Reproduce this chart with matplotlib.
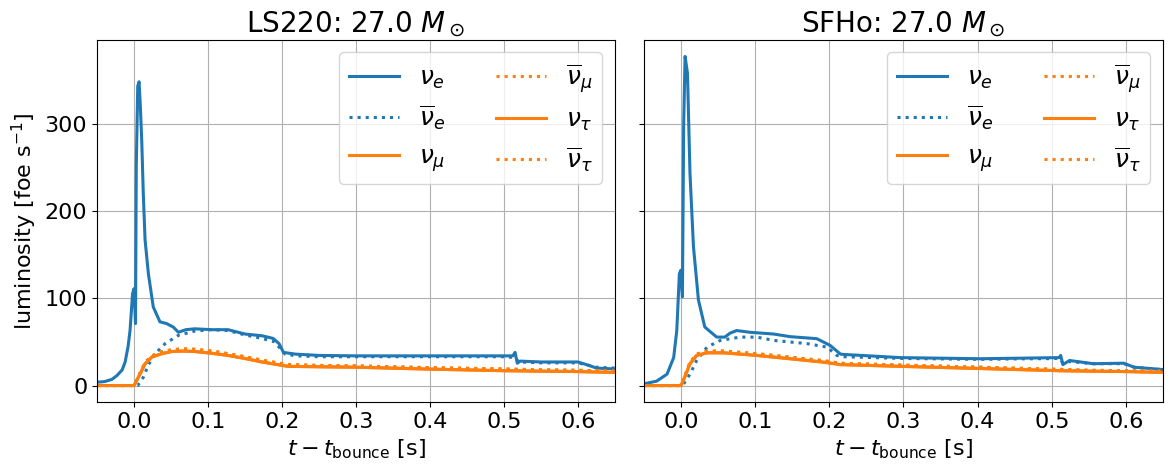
import matplotlib
matplotlib.use("Agg")
import matplotlib.pyplot as plt

# ---------------- LS220 ----------------
ls_t_nue = [-0.05, -0.04, -0.03, -0.023, -0.016, -0.012, -0.008, -0.0054, -0.002, 0.0, 0.002,
            0.003, 0.005, 0.0068, 0.0085, 0.0104, 0.0125, 0.0149, 0.0194, 0.026, 0.035, 0.044,
            0.053, 0.060, 0.07, 0.082, 0.105, 0.127, 0.150, 0.173, 0.188, 0.196, 0.202, 0.218,
            0.25, 0.3, 0.35, 0.4, 0.45, 0.5, 0.512, 0.515, 0.518, 0.522, 0.55, 0.6, 0.615,
            0.625, 0.65]
ls_nue = [3.8, 4.5, 7, 11.5, 18, 27, 45, 63, 105, 111, 71,
          250, 343, 348, 320, 281, 220, 167, 128, 90, 73, 71,
          67, 61, 64, 65, 64, 64, 59, 57, 54, 48, 38, 36,
          34.5, 34, 34, 34, 34, 34, 34, 38, 25.6, 28, 27, 27, 23,
          20, 19]
ls_t_anue = [-0.05, 0.005, 0.0126, 0.019, 0.028, 0.042, 0.06, 0.082, 0.105, 0.127, 0.15,
             0.173, 0.19, 0.204, 0.22, 0.25, 0.3, 0.4, 0.5, 0.515, 0.52, 0.55, 0.6, 0.625, 0.65]
ls_anue = [0, 0, 9.5, 23, 36, 48, 57.5, 62.4, 64, 63, 58,
           54, 50, 36, 34, 33, 33, 33, 33, 32, 27, 26, 26, 21, 20]
ls_t_nux = [-0.05, 0.0, 0.008, 0.015, 0.024, 0.037, 0.051, 0.065, 0.082, 0.105, 0.127, 0.15,
            0.173, 0.208, 0.25, 0.3, 0.4, 0.5, 0.55, 0.6, 0.65]
ls_nux = [0, 0, 13, 25, 32.6, 36.4, 39, 39.5, 39, 37, 34.5, 31,
          27, 22, 21.5, 21, 18.8, 17, 16.5, 16, 15]
ls_anux = [0, 0, 14, 26.5, 34, 38.5, 41, 42, 41.5, 39.5, 36.5, 33,
           29, 24, 23, 22.5, 20.5, 19, 18, 17.5, 16.5]

# ---------------- SFHo ----------------
sf_t_nue = [-0.05, -0.033, -0.019, -0.010, -0.0058, -0.0023, -0.0004, 0.0018, 0.0035, 0.0054,
            0.0086, 0.012, 0.0167, 0.0234, 0.032, 0.048, 0.059, 0.066, 0.075, 0.093, 0.125,
            0.147, 0.183, 0.201, 0.215, 0.22, 0.296, 0.404, 0.51, 0.512, 0.515, 0.524, 0.556,
            0.597, 0.611, 0.649]
sf_nue = [2, 5, 13, 32, 63, 128, 132, 101.5, 300, 377,
          358, 243, 159, 98, 67, 55.5, 55.5, 60, 63, 61, 59,
          56, 53.7, 46, 36, 35.6, 32, 30.7, 32, 34.5, 24, 28.7, 25,
          25.6, 21, 18.4]
sf_t_anue = [-0.05, 0.002, 0.012, 0.021, 0.035, 0.053, 0.08, 0.102, 0.125, 0.17, 0.197, 0.21,
             0.22, 0.3, 0.4, 0.51, 0.515, 0.524, 0.556, 0.597, 0.611, 0.65]
sf_anue = [0, 0, 13, 28.7, 44, 51.7, 55.5, 55.5, 51.7, 48, 44, 34.5,
           33, 31, 30, 31, 26, 27.5, 25, 25, 21, 18]
sf_t_nux = [-0.05, 0.0, 0.006, 0.012, 0.021, 0.035, 0.057, 0.102, 0.147, 0.192, 0.215, 0.296,
            0.404, 0.51, 0.55, 0.6, 0.65]
sf_nux = [0, 0, 12, 25, 34.5, 37.5, 37.5, 34.5, 30.7, 26.8, 24, 22,
          19.5, 17, 16.5, 16, 15]
sf_anux = [0, 0, 13, 26.5, 36, 39.5, 39.5, 36.5, 32.5, 28.5, 25.5, 23.5,
           21, 18.5, 17.5, 17, 16.5]

labels = [r'$\nu_e$', r'$\overline{\nu}_e$', r'$\nu_\mu$',
          r'$\overline{\nu}_\mu$', r'$\nu_\tau$', r'$\overline{\nu}_\tau$']
titles = [r'LS220: 27.0 $M_\odot$', r'SFHo: 27.0 $M_\odot$']

fig = plt.figure(figsize=(11.72, 4.71), dpi=100)
ax1 = fig.add_axes([0.0828, 0.1465, 0.4419, 0.7686])
ax2 = fig.add_axes([0.5495, 0.1465, 0.4428, 0.7686], sharey=ax1)

datasets = [
    (ls_t_nue, ls_nue, ls_t_anue, ls_anue, ls_t_nux, ls_nux, ls_anux),
    (sf_t_nue, sf_nue, sf_t_anue, sf_anue, sf_t_nux, sf_nux, sf_anux),
]
lw = 2.2
for ax, d, title in zip([ax1, ax2], datasets, titles):
    tne, ne, tane, ane, tnx, nx, anx = d
    ax.plot(tne, ne, color='C0', ls='-', lw=lw, label=labels[0])
    ax.plot(tane, ane, color='C0', ls=':', lw=lw, label=labels[1])
    ax.plot(tnx, nx, color='C1', ls='-', lw=lw, label=labels[2])
    ax.plot(tnx, anx, color='C1', ls=':', lw=lw, label=labels[3])
    ax.plot(tnx, nx, color='C1', ls='-', lw=lw, label=labels[4])
    ax.plot(tnx, anx, color='C1', ls=':', lw=lw, label=labels[5])
    ax.set_xlim(-0.05, 0.65)
    ax.grid(True)
    ax.set_title(title, fontsize=20)
    ax.set_xlabel(r'$t-t_{\rm bounce}$ [s]', fontsize=16)
    ax.tick_params(labelsize=16)
    ax.legend(fontsize=18, ncol=2, loc='upper right')

ax1.set_ylabel(r'luminosity [foe s$^{-1}$]', fontsize=16)
plt.setp(ax2.get_yticklabels(), visible=False)

fig.savefig('out.png', dpi=100)
